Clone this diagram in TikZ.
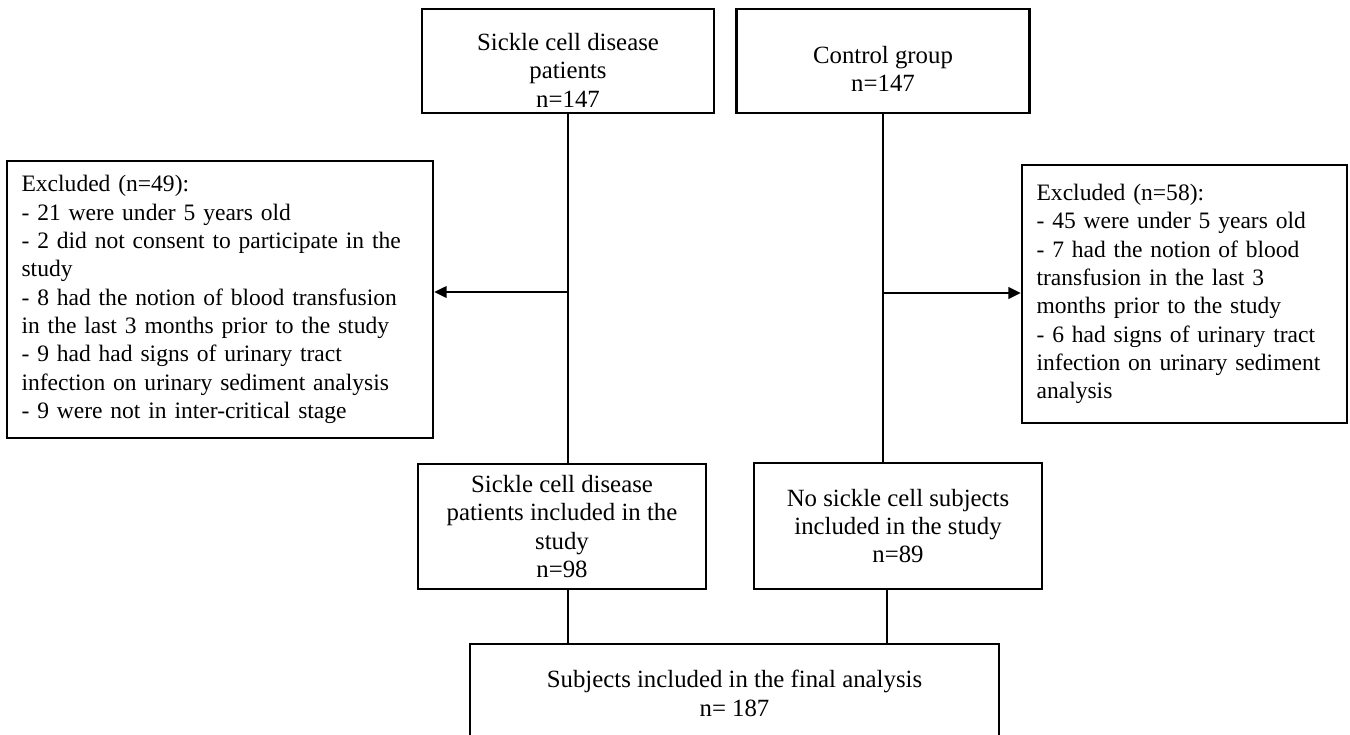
\documentclass[tikz,border=0pt]{standalone}
\usepackage{fontspec}
\setmainfont{Liberation Serif}
\usetikzlibrary{arrows.meta,positioning}

\begin{document}
\begin{tikzpicture}[
  x=0.48pt, y=-0.48pt,
  font=\fontsize{11.9pt}{13.6pt}\selectfont,
  box/.style={draw,line width=1.1pt,align=center,inner sep=2pt},
  exc/.style={draw,line width=1.1pt,align=left,inner xsep=7pt,inner ysep=2pt,
              font=\fontsize{11.3pt}{13.6pt}\selectfont},
  ln/.style={line width=1.1pt},
  arr/.style={-{Triangle[length=6pt,width=5.5pt]},line width=1.1pt}]

\fill[white] (0,0) rectangle (1350,734);
\useasboundingbox (0,0) rectangle (1350,734);

% ---------------- the two groups ----------------
\node[box,minimum width=140.16pt,minimum height=49.92pt] (scd) at (568,61)
  {\rule{0pt}{17pt}Sickle cell disease\\patients\\n=147};
\node[box,minimum width=140.64pt,minimum height=49.92pt] (ctl) at (883,61)
  {\rule{0pt}{16pt}Control group\\n=147};

% ---------------- exclusions ----------------
\node[exc,text width=190.48pt,minimum height=132.96pt] (exl) at (220,299.5)
  {Excluded (n=49):\\- 21 were under 5 years old\\- 2 did not consent to participate in the\\study\\- 8 had the notion of blood transfusion\\in the last 3 months prior to the study\\- 9 had had signs of urinary tract\\infection on urinary sediment analysis\\- 9 were not in inter-critical stage};
\node[exc,text width=142pt,minimum height=123.84pt] (exr) at (1184.5,294)
  {Excluded (n=58):\\- 45 were under 5 years old\\- 7 had the notion of blood\\transfusion in the last 3\\months prior to the study\\- 6 had signs of urinary tract\\infection on urinary sediment\\analysis};

% ---------------- included ----------------
\node[box,minimum width=138.24pt,minimum height=60pt] (sci) at (562,526.5)
  {Sickle cell disease\\patients included in the\\study\\n=98};
\node[box,minimum width=138.24pt,minimum height=60.48pt] (nsc) at (898,526)
  {No sickle cell subjects\\included in the study\\n=89};
\node[box,minimum width=253.92pt,minimum height=47.52pt] (fin) at (734.5,693.5)
  {Subjects included in the final analysis\\n= 187};

% ---------------- connectors ----------------
\coordinate (lj) at (568,292);
\coordinate (rj) at (883,293);
\coordinate (rk) at (887,600);
\draw[ln] (scd.south) -- (scd.south |- sci.north);
\draw[arr] (lj) -- (lj -| exl.east);
\draw[ln] (ctl.south) -- (ctl.south |- nsc.north);
\draw[arr] (rj) -- (rj -| exr.west);
\draw[ln] (sci.south -| lj) -- (fin.north -| lj);
\draw[ln] (nsc.south -| rk) -- (fin.north -| rk);
\end{tikzpicture}
\end{document}
